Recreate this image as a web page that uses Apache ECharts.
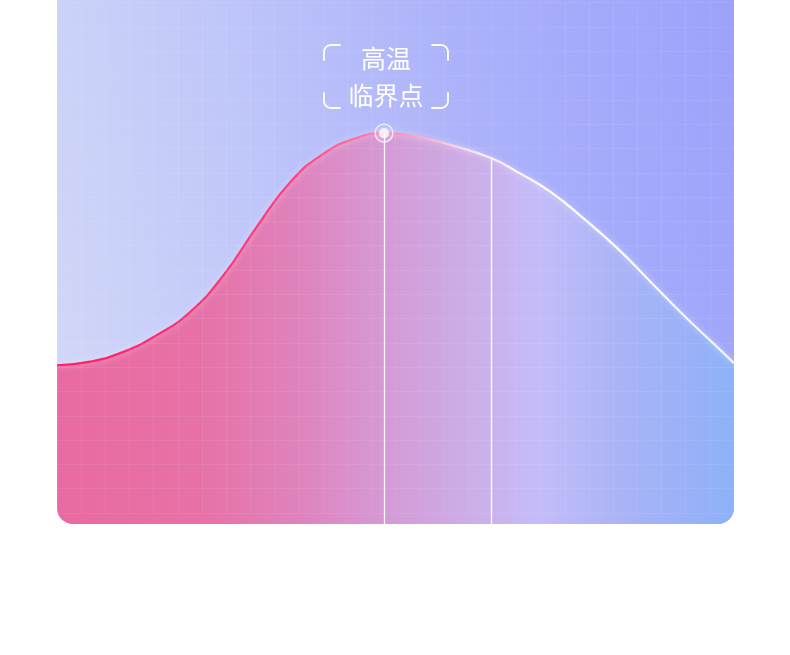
<!DOCTYPE html>
<html>
<head>
<meta charset="utf-8">
<script src="https://cdn.jsdelivr.net/npm/echarts@6/dist/echarts.min.js"></script>
<style>
  html, body { margin: 0; padding: 0; background: #ffffff; }
  #panel {
    position: absolute; left: 57px; top: 0; width: 677px; height: 524px;
    border-radius: 0 0 16px 16px; overflow: hidden;
    background: linear-gradient(78deg, #d3d9f6 0%, #c2c9f9 30%, #abb1fa 65%, #9ca2fa 100%);
  }
  #main { width: 677px; height: 524px; }
</style>
</head>
<body>
<div id="panel"><div id="main"></div></div>
<script>
// 曲线数据（横轴 0~100，纵轴 0~100）
var xs    = [0, 4.9, 9.9, 14.8, 19.7, 24.6, 29.5, 34.5, 39.4, 44.3, 48.3, 53.2, 58.2, 64.2, 68.0, 72.9, 77.8, 82.8, 87.7, 92.6, 97.5, 100];
var temps = [30.3, 31.0, 32.9, 36.1, 40.5, 47.5, 56.7, 65.3, 70.7, 73.7, 74.6, 73.9, 72.3, 69.8, 67.2, 63.4, 58.3, 52.6, 46.2, 39.8, 33.8, 30.7];
// 竖线所在的点（下标）
var peakIndex = 10;
var guideIndex = [10, 13];
var labelLines = ['高温', '临界点'];
// 背景网格：28 列 × 21 行
var gridCols = 28;
var gridRows = 21;

var points = xs.map(function (x, i) { return [x, temps[i]]; });

var myChart = echarts.init(document.getElementById('main'));

var option = {
  animation: false,
  grid: [
    { left: 0, right: 0, top: 0, bottom: 0 },
    { left: 0, right: 0, top: 2.7, bottom: 11 }
  ],
  xAxis: [
    { type: 'value', min: 0, max: 100, show: false, gridIndex: 0 },
    {
      type: 'value', min: 0, max: gridCols, interval: 1, gridIndex: 1, z: 10,
      axisLine: { show: false }, axisTick: { show: false }, axisLabel: { show: false },
      splitLine: { show: true, lineStyle: { color: 'rgba(255,255,255,0.08)', width: 1 } }
    }
  ],
  yAxis: [
    { type: 'value', min: 0, max: 100, show: false, gridIndex: 0 },
    {
      type: 'value', min: 0, max: gridRows, interval: 1, gridIndex: 1, z: 10,
      axisLine: { show: false }, axisTick: { show: false }, axisLabel: { show: false },
      splitLine: { show: true, lineStyle: { color: 'rgba(255,255,255,0.08)', width: 1 } }
    }
  ],
  series: [
    {
      type: 'line',
      data: points,
      smooth: 0.5,
      symbol: 'none',
      lineStyle: {
        width: 2.2,
        color: new echarts.graphic.LinearGradient(0, 0, 1, 0, [
          { offset: 0, color: '#ff1d66' },
          { offset: 0.35, color: '#ff3f80' },
          { offset: 0.5, color: '#ff8fb6' },
          { offset: 0.62, color: '#fbe6f4' },
          { offset: 0.75, color: '#ffffff' },
          { offset: 1, color: '#eef3ff' }
        ]),
        shadowColor: 'rgba(255,255,255,0.5)',
        shadowBlur: 6
      },
      areaStyle: {
        opacity: 1,
        color: new echarts.graphic.LinearGradient(0, 0, 1, 0, [
          { offset: 0, color: '#e86aa0' },
          { offset: 0.21, color: '#e771a6' },
          { offset: 0.36, color: '#df83bd' },
          { offset: 0.48, color: '#d599d4' },
          { offset: 0.64, color: '#cab2ec' },
          { offset: 0.71, color: '#c4bcf9' },
          { offset: 0.83, color: '#aab4f6' },
          { offset: 0.95, color: '#97b0f7' },
          { offset: 1, color: '#8cb2f8' }
        ])
      },
      markLine: {
        silent: true,
        symbol: 'none',
        label: { show: false },
        lineStyle: { color: '#ffffff', width: 1.3, type: 'solid', opacity: 0.95 },
        data: guideIndex.map(function (i) {
          return [{ coord: [xs[i], temps[i]] }, { coord: [xs[i], 0] }];
        })
      }
    },
    {
      type: 'scatter',
      data: [[xs[peakIndex], temps[peakIndex]]],
      symbolSize: 18,
      z: 12,
      itemStyle: { color: 'rgba(255,255,255,0.15)', borderColor: '#ffffff', borderWidth: 1.2 }
    },
    {
      type: 'scatter',
      data: [[xs[peakIndex], temps[peakIndex]]],
      symbolSize: 10,
      z: 13,
      itemStyle: { color: '#ffffff' }
    }
  ]
};

myChart.setOption(option);

// 标签和角括号，位置跟着峰值点
var peak = myChart.convertToPixel({ gridIndex: 0 }, [xs[peakIndex], temps[peakIndex]]);
var cx = peak[0] + 2;
var left = cx - 62, right = cx + 62;
var topY = 45, botY = 108, r = 7, arm = 9, leg = 8;

function corner(x, y, sx, sy) {
  // sx: 水平方向, sy: 竖直方向
  var pts = [[x, y + sy * (r + leg)], [x, y + sy * r]];
  for (var k = 1; k <= 8; k++) {
    var a = (Math.PI / 2) * k / 8;
    pts.push([x + sx * r * (1 - Math.cos(a)), y + sy * r * (1 - Math.sin(a))]);
  }
  pts.push([x + sx * (r + arm), y]);
  return {
    type: 'polyline', z: 20,
    shape: { points: pts },
    style: { stroke: '#ffffff', lineWidth: 1.8, fill: null, lineCap: 'round', lineJoin: 'round' }
  };
}

myChart.setOption({
  graphic: [
    corner(left, topY, 1, 1),
    corner(right, topY, -1, 1),
    corner(left, botY, 1, -1),
    corner(right, botY, -1, -1),
    {
      type: 'text', z: 20, x: cx, y: 58,
      style: {
        text: labelLines[0], fill: '#ffffff', fontSize: 25,
        fontFamily: 'Noto Sans CJK SC', align: 'center', verticalAlign: 'middle'
      }
    },
    {
      type: 'text', z: 20, x: cx, y: 95,
      style: {
        text: labelLines[1], fill: '#ffffff', fontSize: 25,
        fontFamily: 'Noto Sans CJK SC', align: 'center', verticalAlign: 'middle'
      }
    }
  ]
});
</script>
</body>
</html>
